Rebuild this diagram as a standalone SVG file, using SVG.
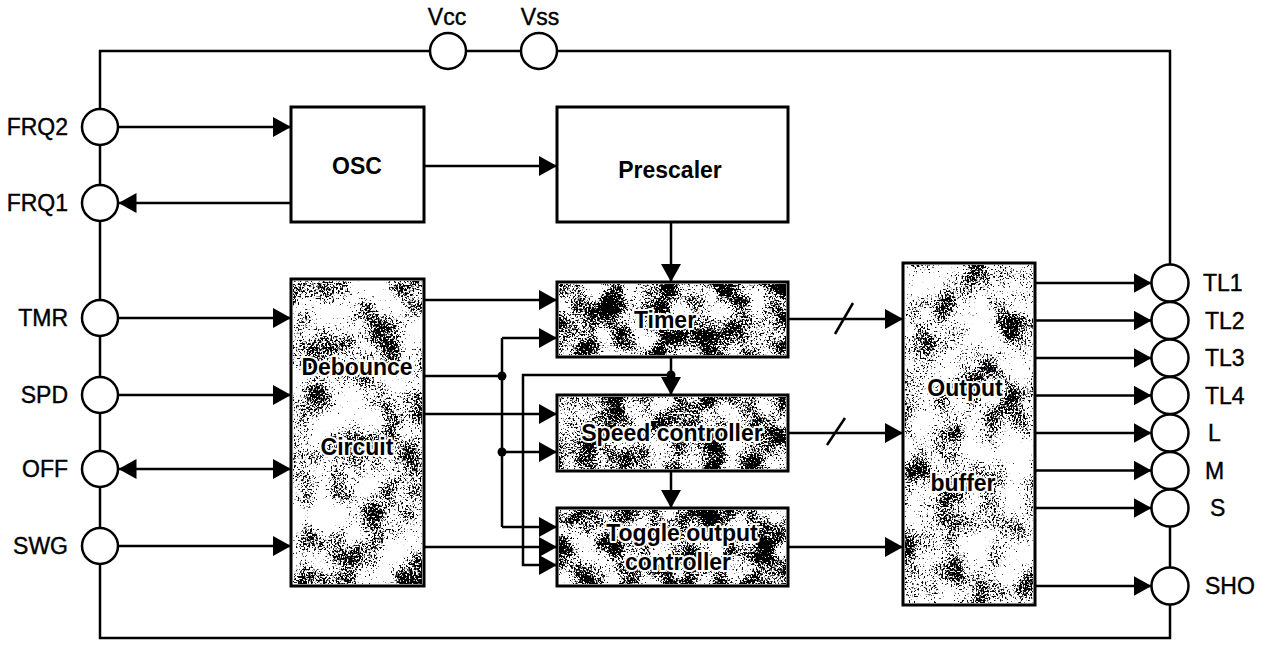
<svg xmlns="http://www.w3.org/2000/svg" width="1269" height="645" viewBox="0 0 1269 645">
<style>
.ln{fill:none;stroke:#000;stroke-width:2.5}
.ar{marker-end:url(#ah)}
.box{fill:none;stroke:#000;stroke-width:3}
.pin{fill:#fff;stroke:#000;stroke-width:2.5}
.lbl{font-family:"Liberation Sans",Arial,sans-serif;font-size:23px;fill:#000;stroke:#000;stroke-width:0.4}
.bl{font-family:"Liberation Sans",Arial,sans-serif;font-size:23px;font-weight:bold;fill:#000;text-anchor:middle}
.halo{stroke:#fff;stroke-width:4;paint-order:stroke;stroke-linejoin:round}
</style>
<defs>
<marker id="ah" markerUnits="userSpaceOnUse" markerWidth="18" markerHeight="20" refX="18" refY="10" orient="auto-start-reverse" viewBox="0 0 18 20"><path d="M0,0 L18,10 L0,20 z" fill="#000"/></marker>
<filter id="grainL" x="0" y="0" width="1" height="1" color-interpolation-filters="sRGB">
<feTurbulence type="fractalNoise" baseFrequency="0.55" numOctaves="2" seed="4" result="f"/>
<feColorMatrix in="f" type="matrix" values="0 0 0 0 0 0 0 0 0 0 0 0 0 0 0 1 0 0 0 0" result="fa"/>
<feTurbulence type="fractalNoise" baseFrequency="0.03" numOctaves="2" seed="9" result="c"/>
<feColorMatrix in="c" type="matrix" values="0 0 0 0 0 0 0 0 0 0 0 0 0 0 0 1 0 0 0 0" result="ca"/>
<feComposite in="fa" in2="ca" operator="arithmetic" k1="0" k2="0.5" k3="0.5" k4="0" result="s"/>
<feColorMatrix in="s" type="matrix" values="0 0 0 0 0 0 0 0 0 0 0 0 0 0 0 0 0 0 20 -10.8"/>
</filter>
<filter id="grainD" x="0" y="0" width="1" height="1" color-interpolation-filters="sRGB">
<feTurbulence type="fractalNoise" baseFrequency="0.55" numOctaves="2" seed="7" result="f"/>
<feColorMatrix in="f" type="matrix" values="0 0 0 0 0 0 0 0 0 0 0 0 0 0 0 1 0 0 0 0" result="fa"/>
<feTurbulence type="fractalNoise" baseFrequency="0.04" numOctaves="2" seed="2" result="c"/>
<feColorMatrix in="c" type="matrix" values="0 0 0 0 0 0 0 0 0 0 0 0 0 0 0 1 0 0 0 0" result="ca"/>
<feComposite in="fa" in2="ca" operator="arithmetic" k1="0" k2="0.5" k3="0.5" k4="0" result="s"/>
<feColorMatrix in="s" type="matrix" values="0 0 0 0 0 0 0 0 0 0 0 0 0 0 0 0 0 0 20 -9.9"/>
</filter>
</defs>
<rect width="1269" height="645" fill="#fff"/>

<g id="connectors">
<rect class="ln" x="100" y="51" width="1070" height="587"/>
<path class="ln ar" d="M118.5,127 H291"/>
<path class="ln ar" d="M291,203 H118.5"/>
<path class="ln ar" d="M424,166 H557"/>
<path class="ln ar" d="M671,222 V282"/>
<path class="ln ar" d="M118.5,318 H291"/>
<path class="ln ar" d="M118.5,395 H291"/>
<path class="ln ar" d="M118.5,469 H291" marker-start="url(#ah)"/>
<path class="ln ar" d="M118.5,546 H291"/>
<path class="ln ar" d="M424,300 H557"/>
<path class="ln" d="M424,376 H502"/>
<path class="ln" d="M502,338 V527"/>
<path class="ln ar" d="M502,338 H557"/>
<path class="ln ar" d="M502,452 H557"/>
<path class="ln ar" d="M502,527 H557"/>
<path class="ln ar" d="M424,414 H557"/>
<path class="ln ar" d="M424,547 H557"/>
<path class="ln ar" d="M671,357 V395"/>
<path class="ln ar" d="M671,375 H523 V565 H557"/>
<path class="ln ar" d="M671,471 V508"/>
<path class="ln ar" d="M788,319 H903"/>
<path class="ln" d="M835,334 L853,303"/>
<path class="ln ar" d="M788,433 H903"/>
<path class="ln" d="M827,445 L845,418"/>
<path class="ln ar" d="M788,547 H903"/>
<path class="ln ar" d="M1035,283 H1151.5"/>
<path class="ln ar" d="M1035,320.5 H1151.5"/>
<path class="ln ar" d="M1035,358 H1151.5"/>
<path class="ln ar" d="M1035,395.5 H1151.5"/>
<path class="ln ar" d="M1035,433 H1151.5"/>
<path class="ln ar" d="M1035,470.5 H1151.5"/>
<path class="ln ar" d="M1035,508 H1151.5"/>
<path class="ln ar" d="M1035,586 H1151.5"/>
<circle cx="502" cy="376" r="4.5"/>
<circle cx="502" cy="452" r="4.5"/>
<circle cx="671" cy="375" r="4.5"/>
</g>

<g id="pin-vcc"><circle class="pin" cx="448" cy="51" r="18"/><text class="lbl" x="447" y="25" text-anchor="middle">Vcc</text></g>
<g id="pin-vss"><circle class="pin" cx="539" cy="51" r="18"/><text class="lbl" x="540" y="25" text-anchor="middle">Vss</text></g>

<g id="pin-frq2"><circle class="pin" cx="100" cy="127" r="18"/><text class="lbl" x="68" y="135" text-anchor="end">FRQ2</text></g>
<g id="pin-frq1"><circle class="pin" cx="100" cy="203" r="18"/><text class="lbl" x="68" y="211" text-anchor="end">FRQ1</text></g>
<g id="pin-tmr"><circle class="pin" cx="100" cy="318" r="18"/><text class="lbl" x="68" y="326" text-anchor="end">TMR</text></g>
<g id="pin-spd"><circle class="pin" cx="100" cy="395" r="18"/><text class="lbl" x="68" y="403" text-anchor="end">SPD</text></g>
<g id="pin-off"><circle class="pin" cx="100" cy="469" r="18"/><text class="lbl" x="68" y="477" text-anchor="end">OFF</text></g>
<g id="pin-swg"><circle class="pin" cx="100" cy="546" r="18"/><text class="lbl" x="68" y="554" text-anchor="end">SWG</text></g>

<g id="pin-tl1"><circle class="pin" cx="1170" cy="283" r="18.5"/><text class="lbl" x="1203" y="291">TL1</text></g>
<g id="pin-tl2"><circle class="pin" cx="1170" cy="320.5" r="18.5"/><text class="lbl" x="1205" y="328.5">TL2</text></g>
<g id="pin-tl3"><circle class="pin" cx="1170" cy="358" r="18.5"/><text class="lbl" x="1205" y="366">TL3</text></g>
<g id="pin-tl4"><circle class="pin" cx="1170" cy="395.5" r="18.5"/><text class="lbl" x="1205" y="403.5">TL4</text></g>
<g id="pin-l"><circle class="pin" cx="1170" cy="433" r="18.5"/><text class="lbl" x="1208" y="441">L</text></g>
<g id="pin-m"><circle class="pin" cx="1170" cy="470.5" r="18.5"/><text class="lbl" x="1205" y="478.5">M</text></g>
<g id="pin-s"><circle class="pin" cx="1170" cy="508" r="18.5"/><text class="lbl" x="1210" y="516">S</text></g>
<g id="pin-sho"><circle class="pin" cx="1170" cy="586" r="18.5"/><text class="lbl" x="1205" y="594">SHO</text></g>

<g id="osc"><rect class="box" x="291" y="107" width="133" height="115"/><text class="bl" x="357" y="174">OSC</text></g>
<g id="prescaler"><rect class="box" x="557" y="107" width="231" height="115"/><text class="bl" x="670" y="178">Prescaler</text></g>

<g id="debounce">
<rect x="291" y="279" width="133" height="307" fill="#fff"/>
<rect x="293" y="281" width="129" height="303" filter="url(#grainL)"/>
<rect class="box" x="291" y="279" width="133" height="307"/>
<text class="bl halo" x="357" y="375">Debounce</text>
<text class="bl halo" x="357" y="455">Circuit</text>
</g>
<g id="timer">
<rect x="557" y="282" width="231" height="75" fill="#fff"/>
<rect x="559" y="284" width="227" height="71" filter="url(#grainD)"/>
<rect class="box" x="557" y="282" width="231" height="75"/>
<text class="bl halo" x="665" y="328">Timer</text>
</g>
<g id="speed">
<rect x="557" y="395" width="231" height="76" fill="#fff"/>
<rect x="559" y="397" width="227" height="72" filter="url(#grainD)"/>
<rect class="box" x="557" y="395" width="231" height="76"/>
<text class="bl halo" x="672" y="441">Speed controller</text>
</g>
<g id="toggle">
<rect x="557" y="508" width="231" height="78" fill="#fff"/>
<rect x="559" y="510" width="227" height="74" filter="url(#grainD)"/>
<rect class="box" x="557" y="508" width="231" height="78"/>
<text class="bl halo" x="682" y="541">Toggle output</text>
<text class="bl halo" x="678" y="570">controller</text>
</g>
<g id="buffer">
<rect x="903" y="263" width="132" height="342" fill="#fff"/>
<rect x="905" y="265" width="128" height="338" filter="url(#grainL)"/>
<rect class="box" x="903" y="263" width="132" height="342"/>
<text class="bl halo" x="965" y="396">Output</text>
<text class="bl halo" x="963" y="491">buffer</text>
</g>
</svg>
